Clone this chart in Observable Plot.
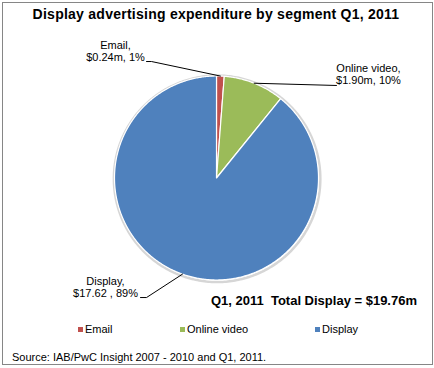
<!DOCTYPE html>
<html>
<head>
<meta charset="utf-8">
<script src="https://cdn.jsdelivr.net/npm/d3@7"></script>
<script src="https://cdn.jsdelivr.net/npm/@observablehq/plot@0.6"></script>
<style>
  html, body { margin: 0; padding: 0; background: #fff; }
  body { font-family: "Liberation Sans", Arial, sans-serif; }
  #wrap { position: relative; width: 434px; height: 368px; overflow: hidden; }
  #frame { position: absolute; left: 2px; top: 2px; width: 431px; height: 363px; box-sizing: border-box; border: 1px solid #868686; }
  .t { position: absolute; white-space: pre; line-height: 1; color: #000; }
  #chart { position: absolute; left: 0; top: 0; }
  .sw { position: absolute; width: 5px; height: 5px; }
</style>
</head>
<body>
<div id="wrap">
  <div id="frame"></div>
  <div id="chart"></div>
  <div class="t" id="title" style="left:0;width:432px;text-align:center;top:7px;font-weight:bold;font-size:14px;letter-spacing:0.25px;"></div>
  <div class="t" id="total" style="right:17px;top:294px;font-weight:bold;font-size:13px;"></div>
  <div id="legend"></div>
  <div class="t" id="source" style="left:12px;top:352px;font-size:11px;"></div>
</div>
<script>
// ---- data ----
const segments = ["Email", "Online video", "Display"];
const values = [0.24, 1.90, 17.62];
const valueText = ["$0.24m", "$1.90m", "$17.62 "];
const percentText = ["1%", "10%", "89%"];
const colors = ["#C0504D", "#9BBB59", "#4F81BD"];
const titleText = "Display advertising expenditure by segment Q1, 2011";
const totalText = "Q1, 2011  Total Display = $19.76m";
const sourceText = "Source: IAB/PwC Insight 2007 - 2010 and Q1, 2011.";

// ---- layout (not data) ----
const labelPos = {            // label anchor, unit-circle coordinates
  "Email":        {x: -0.99, y: 1.35},
  "Online video": {x: 1.49,  y: 1.12},
  "Display":      {x: -1.088, y: -0.97}
};
const leaderEnds = {          // leader line end points (from label toward pie)
  "Email":        [[-0.686, 1.142], [-0.637, 1.142]],
  "Online video": [[1.176, 0.907]],
  "Display":      [[-0.745, -1.172], [-0.686, -1.172]]
};
const legendX = [78, 180, 315];

// ---- pie geometry ----
const arcs = d3.pie().sort(null)(values);
const slicePts = [];
arcs.forEach((a, i) => {
  const seg = segments[i];
  slicePts.push({segment: seg, x: 0, y: 0});
  const n = Math.max(2, Math.ceil((a.endAngle - a.startAngle) / 0.01));
  for (let k = 0; k <= n; k++) {
    const t = a.startAngle + (a.endAngle - a.startAngle) * k / n;
    slicePts.push({segment: seg, x: Math.sin(t), y: Math.cos(t)});
  }
});
const rim = d3.range(0, 361).map(d => {
  const t = d * Math.PI / 180;
  return {x: 1.012 * Math.sin(t) + 0.006, y: 1.012 * Math.cos(t) - 0.008};
});
const leaders = [];
arcs.forEach((a, i) => {
  const seg = segments[i];
  const m = (a.startAngle + a.endAngle) / 2;
  leaders.push({segment: seg, x: Math.sin(m), y: Math.cos(m)});
  leaderEnds[seg].slice().reverse().forEach(p => leaders.push({segment: seg, x: p[0], y: p[1]}));
});
const labels = segments.map((s, i) => ({
  segment: s,
  x: labelPos[s].x, y: labelPos[s].y,
  text: s + ",\n" + valueText[i] + ", " + percentText[i]
}));

const chart = Plot.plot({
  width: 434, height: 368,
  marginLeft: 114, marginRight: 116, marginTop: 75.5, marginBottom: 88.5,
  x: {domain: [-1, 1], axis: null},
  y: {domain: [-1, 1], axis: null},
  color: {domain: segments, range: colors},
  style: {fontFamily: "'Liberation Sans', Arial, sans-serif", background: "transparent", overflow: "visible"},
  marks: [
    Plot.line(rim, {x: "x", y: "y", stroke: "#bbbbbb", strokeWidth: 2.5, strokeOpacity: 0.6, curve: "linear-closed"}),
    Plot.line(slicePts, {x: "x", y: "y", z: "segment", fill: "segment", stroke: "white", strokeWidth: 1.2, curve: "linear-closed"}),
    Plot.line(leaders, {x: "x", y: "y", z: "segment", stroke: "black", strokeWidth: 1}),
    Plot.text(labels, {x: "x", y: "y", text: "text", textAnchor: "middle", lineAnchor: "top", fontSize: 11, lineHeight: 1.09, fill: "black"})
  ]
});
document.getElementById("chart").appendChild(chart);

document.getElementById("title").textContent = titleText;
document.getElementById("total").textContent = totalText;
document.getElementById("source").textContent = sourceText;
const legend = document.getElementById("legend");
segments.forEach((s, i) => {
  const sw = document.createElement("div");
  sw.className = "sw";
  sw.style.left = legendX[i] + "px";
  sw.style.top = "327px";
  sw.style.background = colors[i];
  legend.appendChild(sw);
  const tx = document.createElement("div");
  tx.className = "t";
  tx.style.left = (legendX[i] + 7) + "px";
  tx.style.top = "324px";
  tx.style.fontSize = "11px";
  tx.textContent = s;
  legend.appendChild(tx);
});
</script>
</body>
</html>
